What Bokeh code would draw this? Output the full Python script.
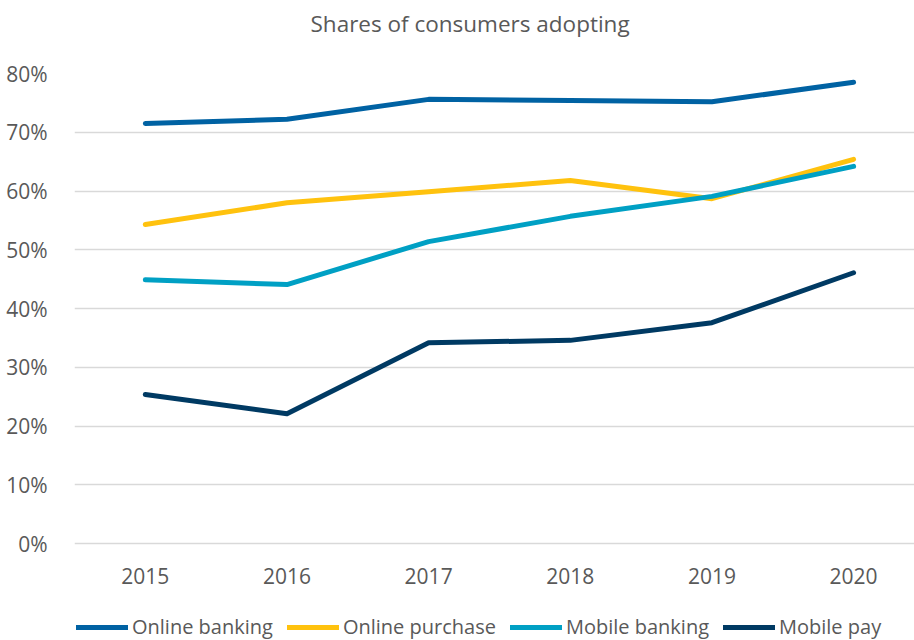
from bokeh.plotting import figure
from bokeh.models import Range1d, FixedTicker, NumeralTickFormatter, Legend, LegendItem, Title
from bokeh.embed import file_html
from bokeh.resources import INLINE

years = [2015, 2016, 2017, 2018, 2019, 2020]
online_banking = [0.715, 0.722, 0.756, 0.754, 0.752, 0.785]
online_purchase = [0.543, 0.580, 0.599, 0.618, 0.587, 0.654]
mobile_banking = [0.449, 0.441, 0.514, 0.557, 0.591, 0.642]
mobile_pay = [0.254, 0.221, 0.342, 0.346, 0.376, 0.461]
series_names = ["Online banking", "Online purchase", "Mobile banking", "Mobile pay"]
series_colors = ["#0062A3", "#FFC20E", "#00A0C4", "#003A63"]
y_ticks = [0, 0.1, 0.2, 0.3, 0.4, 0.5, 0.6, 0.7, 0.8]
title_text = "Shares of consumers adopting"

FONT = "Open Sans"
TXT = "#595959"

# frame reaches the bottom of the page so the legend can sit inside it
p = figure(frame_width=840, frame_height=567,
           min_border_left=74, min_border_right=0, min_border_top=73, min_border_bottom=0,
           x_range=Range1d(2014.5, 2020.43), y_range=Range1d(-0.1646, 0.8),
           output_backend="svg", toolbar_location=None, outline_line_color=None)

renderers = []
for vals, c in zip([online_banking, online_purchase, mobile_banking, mobile_pay], series_colors):
    r = p.line(years, vals, line_color=c, line_width=5, line_cap="round", line_join="round")
    renderers.append(r)

# invisible spacer next to the frame, then the title above it
p.add_layout(Title(text=" ", text_color="white", text_font_size="1px", standoff=32), "above")
p.add_layout(Title(text=title_text, align="left", offset=236, standoff=0,
                   text_font=FONT, text_font_size="22.5px", text_font_style="normal",
                   text_color=TXT), "above")

p.xaxis.ticker = FixedTicker(ticks=years)
p.xaxis.major_label_overrides = {y: str(y) for y in years}
p.xaxis.fixed_location = 0
p.yaxis.ticker = FixedTicker(ticks=y_ticks)
p.yaxis.formatter = NumeralTickFormatter(format="0%")
for ax in [p.xaxis[0], p.yaxis[0]]:
    ax.axis_line_color = None
    ax.major_tick_line_color = None
    ax.minor_tick_line_color = None
    ax.major_label_text_font = FONT
    ax.major_label_text_font_size = "21px"
    ax.major_label_text_color = TXT
p.xaxis.major_label_standoff = 18
p.yaxis.major_label_standoff = 21

p.xgrid.grid_line_color = None
p.ygrid.grid_line_color = "#D9D9D9"
p.ygrid.grid_line_width = 1.5

legend = Legend(items=[LegendItem(label=n, renderers=[r]) for n, r in zip(series_names, renderers)],
                orientation="horizontal", location=(2, 0),
                label_text_font=FONT, label_text_font_size="20px", label_text_color=TXT,
                glyph_width=52, glyph_height=20, label_height=20, label_standoff=4,
                spacing=14, padding=0, margin=0, border_line_color=None,
                background_fill_alpha=0)
p.add_layout(legend, "center")

open("out.html", "w").write(file_html(p, INLINE))
